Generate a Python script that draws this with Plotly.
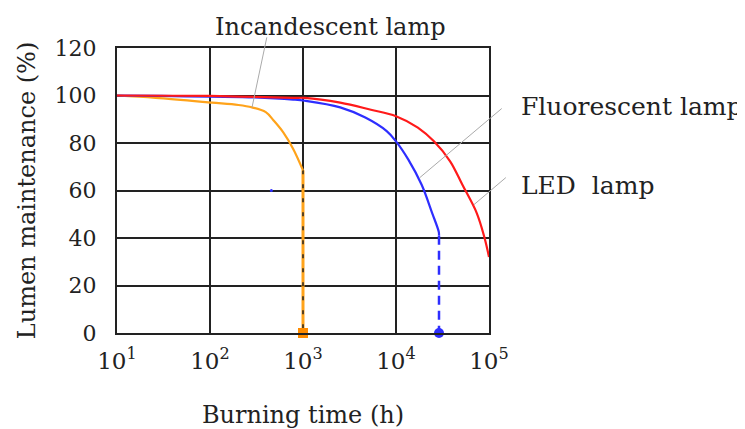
import math
import plotly.graph_objects as go

# ---- data ----
inc_x = [10, 26, 105, 202, 283, 398, 483, 616, 785, 1000]
inc_y = [100, 99, 97, 96, 95, 93, 89.5, 84.4, 77.5, 68.5]
inc_drop_x = [1000, 1000]
inc_drop_y = [68.5, 0]

flu_x = [10, 30, 100, 300, 785, 1047, 2512, 4677, 7943, 10000, 13580, 18870, 24430, 28820, 29000]
flu_y = [100, 99.8, 99.5, 99.2, 98.3, 97.8, 95, 90.7, 85, 80.7, 73, 62.4, 50.6, 42.6, 41]
flu_drop_x = [29000, 29000]
flu_drop_y = [41, 0]

led_x = [10, 100, 785, 1047, 2512, 5370, 10000, 17180, 25590, 38190, 51760, 73660, 88900, 100000]
led_y = [100, 99.8, 99, 99, 97, 94, 91.3, 86.5, 80.7, 72.3, 62.4, 50.6, 40.5, 32]

stray_x = [457]
stray_y = [60]

# points on the curves where the label leader lines end
leader_x = [283, 18000, 68700]
leader_y = [95, 65.4, 54]

x_ticks = [10, 100, 1000, 10000, 100000]
x_ticktext = ["10<sup>1</sup>", "10<sup>2</sup>", "10<sup>3</sup>", "10<sup>4</sup>", "10<sup>5</sup>"]
y_ticks = [0, 20, 40, 60, 80, 100, 120]

FONT = "DejaVu Serif"
TXT = "#222222"
ORANGE = "#FFA31A"
BLUE = "#2E2EFF"
RED = "#FF1A1A"

fig = go.Figure()

fig.add_trace(go.Scatter(x=inc_drop_x, y=inc_drop_y, mode="lines",
                         line=dict(color=ORANGE, width=3), cliponaxis=False, showlegend=False))
fig.add_trace(go.Scatter(x=inc_drop_x, y=inc_drop_y, mode="lines",
                         line=dict(color="#222222", width=1.5, dash="4px,10px"), showlegend=False))
fig.add_trace(go.Scatter(x=inc_x, y=inc_y, mode="lines",
                         line=dict(color=ORANGE, width=2.2, shape="spline", smoothing=1.0),
                         showlegend=False))
fig.add_trace(go.Scatter(x=[inc_drop_x[-1]], y=[inc_drop_y[-1]], mode="markers",
                         marker=dict(symbol="square", color="#FF8C00", size=10), cliponaxis=False,
                         showlegend=False))

fig.add_trace(go.Scatter(x=flu_x, y=flu_y, mode="lines",
                         line=dict(color=BLUE, width=2.2, shape="spline", smoothing=1.0),
                         showlegend=False))
fig.add_trace(go.Scatter(x=flu_drop_x, y=flu_drop_y, mode="lines",
                         line=dict(color=BLUE, width=2.5, dash="9px,6px"), showlegend=False))
fig.add_trace(go.Scatter(x=[flu_drop_x[-1]], y=[flu_drop_y[-1]], mode="markers",
                         marker=dict(symbol="circle", color=BLUE, size=10), cliponaxis=False,
                         showlegend=False))

fig.add_trace(go.Scatter(x=led_x, y=led_y, mode="lines",
                         line=dict(color=RED, width=2.2, shape="spline", smoothing=1.0),
                         showlegend=False))

fig.add_trace(go.Scatter(x=stray_x, y=stray_y, mode="markers", marker=dict(color=BLUE, size=3),
                         showlegend=False))

GRAY = "#AAAAAA"
# leader lines (anchored on the curves, far end given as pixel offset)
for px, py, (ax, ay) in zip(leader_x, leader_y, [(15, -71), (83, -70), (33, -28)]):
    fig.add_annotation(x=math.log10(px), y=py, xref="x", yref="y", ax=ax, ay=ay, text=".",
                       font=dict(size=1, color="rgba(0,0,0,0)"), borderpad=0,
                       showarrow=True, arrowhead=0, arrowwidth=1, arrowcolor=GRAY, standoff=0)

fig.add_annotation(x=0.573, y=1.074, xref="paper", yref="paper", text="Incandescent lamp",
                   showarrow=False, xanchor="center", yanchor="middle",
                   font=dict(family=FONT, size=24, color=TXT))
fig.add_annotation(x=1.081, y=0.796, xref="paper", yref="paper", text="Fluorescent lamp",
                   showarrow=False, xanchor="left", yanchor="middle",
                   font=dict(family=FONT, size=25, color=TXT))
fig.add_annotation(x=1.081, y=0.519, xref="paper", yref="paper", text="LED  lamp",
                   showarrow=False, xanchor="left", yanchor="middle",
                   font=dict(family=FONT, size=25, color=TXT))

fig.update_xaxes(type="log", range=[1, 5], tickvals=x_ticks, ticktext=x_ticktext,
                 showgrid=True, gridcolor="#222222", gridwidth=2,
                 showline=True, linecolor="#222222", linewidth=2, mirror=True,
                 ticks="", zeroline=False, ticklabelstandoff=6,
                 tickfont=dict(family=FONT, size=23, color=TXT),
                 title=dict(text="Burning time (h)", font=dict(family=FONT, size=24, color=TXT), standoff=34))
fig.update_yaxes(range=[0, 120], tickvals=y_ticks,
                 showgrid=True, gridcolor="#222222", gridwidth=2,
                 showline=True, linecolor="#222222", linewidth=2, mirror=True,
                 ticks="", zeroline=False, ticklabelstandoff=14,
                 tickfont=dict(family=FONT, size=22, color=TXT),
                 title=dict(text="Lumen maintenance (%)", font=dict(family=FONT, size=24, color=TXT), standoff=12))

fig.update_layout(width=745, height=429, margin=dict(l=109, r=264, t=40, b=104),
                  plot_bgcolor="white", paper_bgcolor="white", showlegend=False)

fig.write_html("out.html")
